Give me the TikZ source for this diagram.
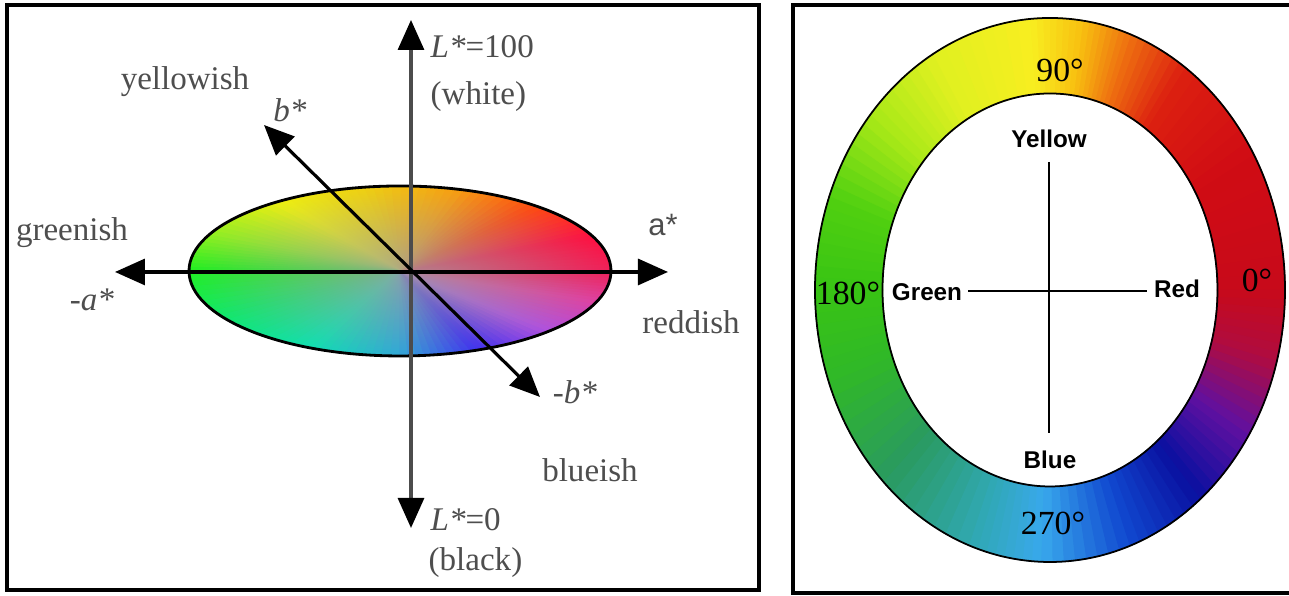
\documentclass[tikz,border=0pt]{standalone}
\usepackage{fontspec}
\setmainfont{Liberation Serif}
\newfontfamily\hlsans{Liberation Sans}
\usetikzlibrary{arrows.meta,fadings}
\tikzfading[name=graymid, inner color=transparent!10, outer color=transparent!100]
\definecolor{labgray}{RGB}{78,78,78}
% key colours of the a*b* plane
\definecolor{lA}{HTML}{F0205A}
\definecolor{lB}{HTML}{FF1040}
\definecolor{lC}{HTML}{FF4A10}
\definecolor{lD}{HTML}{F8A010}
\definecolor{lE}{HTML}{F0D010}
\definecolor{lF}{HTML}{EEF010}
\definecolor{lG}{HTML}{90F020}
\definecolor{lH}{HTML}{20F020}
\definecolor{lI}{HTML}{10E870}
\definecolor{lJ}{HTML}{10E0B0}
\definecolor{lK}{HTML}{30A8D8}
\definecolor{lL}{HTML}{4030F0}
\definecolor{lM}{HTML}{B050E0}
\definecolor{lN}{HTML}{E040A0}
% key colours of the hue ring
\definecolor{rA}{HTML}{C80A1A}
\definecolor{rB}{HTML}{D00C14}
\definecolor{rC}{HTML}{DC2010}
\definecolor{rD}{HTML}{EE7010}
\definecolor{rE}{HTML}{F8C010}
\definecolor{rF}{HTML}{F8EE20}
\definecolor{rG}{HTML}{E0F020}
\definecolor{rH}{HTML}{A8E818}
\definecolor{rI}{HTML}{50D010}
\definecolor{rJ}{HTML}{38C414}
\definecolor{rK}{HTML}{30B828}
\definecolor{rL}{HTML}{2A9A60}
\definecolor{rM}{HTML}{30A8B0}
\definecolor{rN}{HTML}{38A8EC}
\definecolor{rO}{HTML}{1048D0}
\definecolor{rP}{HTML}{0A10A0}
\definecolor{rQ}{HTML}{6010A0}
\definecolor{rR}{HTML}{B00C40}

\begin{document}
\begin{tikzpicture}[
    axisline/.style={line width=.9pt,<->,>={Triangle[length=3mm,width=2.6mm,color=black]}},
    lab/.style={text=labgray,font=\fontsize{9.4}{11}\selectfont,inner sep=0pt},
    deg/.style={font=\fontsize{9.6}{11}\selectfont,inner sep=0pt},
    huelab/.style={font=\hlsans\bfseries\fontsize{6.9}{8}\selectfont,inner sep=0pt},
    frame/.style={line width=1.4pt}]
  \useasboundingbox (0,0) rectangle (12.89,5.96);
  \fill[white] (0,0) rectangle (12.89,5.96);

  % ---- CIELAB axes ----
  \draw[frame] (0.07,0.06) rectangle (7.59,5.91);
  \begin{scope}[shift={(4.00,3.25)}]
    \foreach \tb/\cb [remember=\tb as \ta (initially 0), remember=\cb as \ca (initially lA)] in
        {25/lB,50/lC,75/lD,100/lE,125/lF,155/lG,180/lH,215/lI,245/lJ,270/lK,292/lL,315/lM,340/lN,360/lA} {
      \foreach \k in {0,...,9} {
        \pgfmathsetmacro\aA{\ta+(\tb-\ta)*\k/10}
        \pgfmathsetmacro\aB{\ta+(\tb-\ta)*(\k+1)/10}
        \pgfmathtruncatemacro\mixp{100*(\k+0.5)/10}
        \filldraw[\cb!\mixp!\ca,line width=.3pt] (0,0) -- (\aA:2.11 and 0.85)
          arc[start angle=\aA,end angle=\aB,x radius=2.11cm,y radius=.85cm] -- cycle;
      }
    }
    \fill[gray!75,path fading=graymid,fill opacity=.9] (0,0) ellipse[x radius=2.11cm,y radius=.85cm];
    \draw[line width=.8pt] (0,0) ellipse[x radius=2.11cm,y radius=.85cm];
  \end{scope}

  \coordinate (Ltop) at (4.11,5.76);
  \coordinate (Lbot) at (4.11,0.68);
  \coordinate (aneg) at (1.15,3.24);
  \coordinate (apos) at (6.68,3.24);
  \coordinate (bpos) at (2.64,4.71);
  \coordinate (bneg) at (5.40,1.99);
  \draw[axisline,black!70] (Lbot) -- (Ltop);
  \draw[axisline] (aneg) -- (apos);
  \draw[axisline] (bneg) -- (bpos);

  \node[lab,anchor=west] (lw) at (4.30,5.49) {{\itshape L*}=100};
  \node[lab,anchor=west] (white) at (4.30,4.99) {(white)};
  \node[lab] (yel) at (1.85,5.14) {yellowish};
  \node[lab] (bp) at (2.90,4.86) {\itshape b*};
  \node[lab] (green) at (0.72,3.63) {greenish};
  \node[lab] (an) at (0.92,2.96) {\itshape -a*};
  \node[lab,font=\hlsans\fontsize{8.8}{10}\selectfont] (ap) at (6.63,3.71) {a*};
  \node[lab] (red) at (6.91,2.74) {reddish};
  \node[lab] (bn) at (5.75,2.04) {\itshape -b*};
  \node[lab] (blue) at (5.90,1.26) {blueish};
  \node[lab,anchor=west] (lb) at (4.30,0.76) {{\itshape L*}=0};
  \node[lab,anchor=west] (black) at (4.28,0.33) {(black)};

  % ---- hue ring ----
  \draw[frame] (12.89,5.91) -- (7.93,5.91) -- (7.93,0.03) -- (12.89,0.03);
  \begin{scope}[shift={(10.50,3.06)}]
    \foreach \tb/\cb [remember=\tb as \ta (initially 0), remember=\cb as \ca (initially rA)] in
        {30/rB,55/rC,70/rD,82/rE,95/rF,120/rG,140/rH,160/rI,180/rJ,200/rK,225/rL,250/rM,268/rN,290/rO,310/rP,328/rQ,345/rR,360/rA} {
      \foreach \k in {0,...,7} {
        \pgfmathsetmacro\aA{\ta+(\tb-\ta)*\k/8}
        \pgfmathsetmacro\aB{\ta+(\tb-\ta)*(\k+1)/8}
        \pgfmathtruncatemacro\mixp{100*(\k+0.5)/8}
        \filldraw[\cb!\mixp!\ca,line width=.3pt] (\aA:2.35 and 2.72)
          arc[start angle=\aA,end angle=\aB,x radius=2.35cm,y radius=2.72cm]
          -- (\aB:1.675 and 1.965)
          arc[start angle=\aB,end angle=\aA,x radius=1.675cm,y radius=1.965cm] -- cycle;
      }
    }
    \draw[line width=.5pt] (0,0) ellipse[x radius=2.35cm,y radius=2.72cm]
      (0,0) ellipse[x radius=1.675cm,y radius=1.965cm];
  \end{scope}

  \coordinate (ctop) at (10.49,4.34);
  \coordinate (cbot) at (10.49,1.63);
  \coordinate (cleft) at (9.68,3.05);
  \coordinate (cright) at (11.47,3.05);
  \draw[line width=.6pt] (ctop) -- (cbot);
  \draw[line width=.6pt] (cleft) -- (cright);

  \node[huelab] (hy) at (10.49,4.57) {Yellow};
  \node[huelab] (hb) at (10.50,1.36) {Blue};
  \node[huelab] (hg) at (9.27,3.04) {Green};
  \node[huelab] (hr) at (11.77,3.07) {Red};
  \node[deg] (d90) at (10.60,5.26) {90°};
  \node[deg] (d0) at (12.57,3.16) {0°};
  \node[deg] (d180) at (8.48,3.03) {180°};
  \node[deg] (d270) at (10.53,0.73) {270°};
\end{tikzpicture}
\end{document}
